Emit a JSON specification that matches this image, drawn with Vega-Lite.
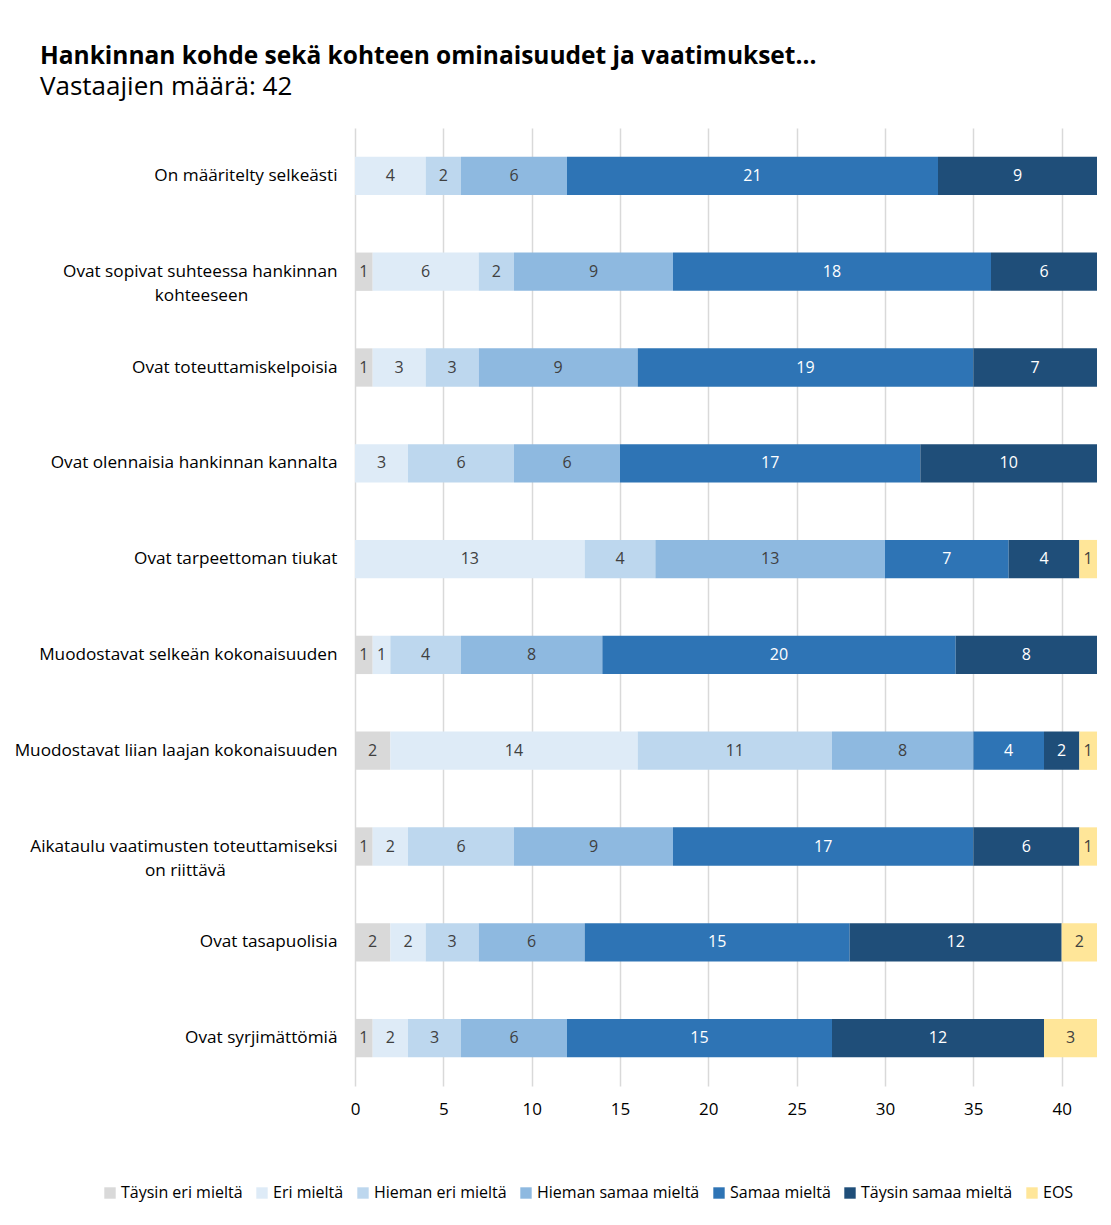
{
  "$schema": "https://vega.github.io/schema/vega-lite/v6.json",
  "width": 742,
  "height": 958,
  "autosize": {"type": "none"},
  "padding": {"left": 355, "top": 128, "right": 14, "bottom": 139},
  "background": "white",
  "title": {
    "text": "Hankinnan kohde sekä kohteen ominaisuudet ja vaatimukset...",
    "subtitle": "Vastaajien määrä: 42",
    "anchor": "start",
    "frame": "group",
    "dx": -315,
    "offset": 27,
    "font": "Open Sans",
    "fontSize": 24.5,
    "fontWeight": "bold",
    "color": "#000000",
    "subtitleFont": "Open Sans",
    "subtitleFontSize": 26,
    "subtitleColor": "#000000",
    "subtitlePadding": 5
  },
  "data": {
    "values": [
      {"q": "On määritelty selkeästi", "cat": "Eri mieltä", "n": 4},
      {"q": "On määritelty selkeästi", "cat": "Hieman eri mieltä", "n": 2},
      {"q": "On määritelty selkeästi", "cat": "Hieman samaa mieltä", "n": 6},
      {"q": "On määritelty selkeästi", "cat": "Samaa mieltä", "n": 21},
      {"q": "On määritelty selkeästi", "cat": "Täysin samaa mieltä", "n": 9},
      {"q": "Ovat sopivat suhteessa hankinnan kohteeseen", "cat": "Täysin eri mieltä", "n": 1},
      {"q": "Ovat sopivat suhteessa hankinnan kohteeseen", "cat": "Eri mieltä", "n": 6},
      {"q": "Ovat sopivat suhteessa hankinnan kohteeseen", "cat": "Hieman eri mieltä", "n": 2},
      {"q": "Ovat sopivat suhteessa hankinnan kohteeseen", "cat": "Hieman samaa mieltä", "n": 9},
      {"q": "Ovat sopivat suhteessa hankinnan kohteeseen", "cat": "Samaa mieltä", "n": 18},
      {"q": "Ovat sopivat suhteessa hankinnan kohteeseen", "cat": "Täysin samaa mieltä", "n": 6},
      {"q": "Ovat toteuttamiskelpoisia", "cat": "Täysin eri mieltä", "n": 1},
      {"q": "Ovat toteuttamiskelpoisia", "cat": "Eri mieltä", "n": 3},
      {"q": "Ovat toteuttamiskelpoisia", "cat": "Hieman eri mieltä", "n": 3},
      {"q": "Ovat toteuttamiskelpoisia", "cat": "Hieman samaa mieltä", "n": 9},
      {"q": "Ovat toteuttamiskelpoisia", "cat": "Samaa mieltä", "n": 19},
      {"q": "Ovat toteuttamiskelpoisia", "cat": "Täysin samaa mieltä", "n": 7},
      {"q": "Ovat olennaisia hankinnan kannalta", "cat": "Eri mieltä", "n": 3},
      {"q": "Ovat olennaisia hankinnan kannalta", "cat": "Hieman eri mieltä", "n": 6},
      {"q": "Ovat olennaisia hankinnan kannalta", "cat": "Hieman samaa mieltä", "n": 6},
      {"q": "Ovat olennaisia hankinnan kannalta", "cat": "Samaa mieltä", "n": 17},
      {"q": "Ovat olennaisia hankinnan kannalta", "cat": "Täysin samaa mieltä", "n": 10},
      {"q": "Ovat tarpeettoman tiukat", "cat": "Eri mieltä", "n": 13},
      {"q": "Ovat tarpeettoman tiukat", "cat": "Hieman eri mieltä", "n": 4},
      {"q": "Ovat tarpeettoman tiukat", "cat": "Hieman samaa mieltä", "n": 13},
      {"q": "Ovat tarpeettoman tiukat", "cat": "Samaa mieltä", "n": 7},
      {"q": "Ovat tarpeettoman tiukat", "cat": "Täysin samaa mieltä", "n": 4},
      {"q": "Ovat tarpeettoman tiukat", "cat": "EOS", "n": 1},
      {"q": "Muodostavat selkeän kokonaisuuden", "cat": "Täysin eri mieltä", "n": 1},
      {"q": "Muodostavat selkeän kokonaisuuden", "cat": "Eri mieltä", "n": 1},
      {"q": "Muodostavat selkeän kokonaisuuden", "cat": "Hieman eri mieltä", "n": 4},
      {"q": "Muodostavat selkeän kokonaisuuden", "cat": "Hieman samaa mieltä", "n": 8},
      {"q": "Muodostavat selkeän kokonaisuuden", "cat": "Samaa mieltä", "n": 20},
      {"q": "Muodostavat selkeän kokonaisuuden", "cat": "Täysin samaa mieltä", "n": 8},
      {"q": "Muodostavat liian laajan kokonaisuuden", "cat": "Täysin eri mieltä", "n": 2},
      {"q": "Muodostavat liian laajan kokonaisuuden", "cat": "Eri mieltä", "n": 14},
      {"q": "Muodostavat liian laajan kokonaisuuden", "cat": "Hieman eri mieltä", "n": 11},
      {"q": "Muodostavat liian laajan kokonaisuuden", "cat": "Hieman samaa mieltä", "n": 8},
      {"q": "Muodostavat liian laajan kokonaisuuden", "cat": "Samaa mieltä", "n": 4},
      {"q": "Muodostavat liian laajan kokonaisuuden", "cat": "Täysin samaa mieltä", "n": 2},
      {"q": "Muodostavat liian laajan kokonaisuuden", "cat": "EOS", "n": 1},
      {"q": "Aikataulu vaatimusten toteuttamiseksi on riittävä", "cat": "Täysin eri mieltä", "n": 1},
      {"q": "Aikataulu vaatimusten toteuttamiseksi on riittävä", "cat": "Eri mieltä", "n": 2},
      {"q": "Aikataulu vaatimusten toteuttamiseksi on riittävä", "cat": "Hieman eri mieltä", "n": 6},
      {"q": "Aikataulu vaatimusten toteuttamiseksi on riittävä", "cat": "Hieman samaa mieltä", "n": 9},
      {"q": "Aikataulu vaatimusten toteuttamiseksi on riittävä", "cat": "Samaa mieltä", "n": 17},
      {"q": "Aikataulu vaatimusten toteuttamiseksi on riittävä", "cat": "Täysin samaa mieltä", "n": 6},
      {"q": "Aikataulu vaatimusten toteuttamiseksi on riittävä", "cat": "EOS", "n": 1},
      {"q": "Ovat tasapuolisia", "cat": "Täysin eri mieltä", "n": 2},
      {"q": "Ovat tasapuolisia", "cat": "Eri mieltä", "n": 2},
      {"q": "Ovat tasapuolisia", "cat": "Hieman eri mieltä", "n": 3},
      {"q": "Ovat tasapuolisia", "cat": "Hieman samaa mieltä", "n": 6},
      {"q": "Ovat tasapuolisia", "cat": "Samaa mieltä", "n": 15},
      {"q": "Ovat tasapuolisia", "cat": "Täysin samaa mieltä", "n": 12},
      {"q": "Ovat tasapuolisia", "cat": "EOS", "n": 2},
      {"q": "Ovat syrjimättömiä", "cat": "Täysin eri mieltä", "n": 1},
      {"q": "Ovat syrjimättömiä", "cat": "Eri mieltä", "n": 2},
      {"q": "Ovat syrjimättömiä", "cat": "Hieman eri mieltä", "n": 3},
      {"q": "Ovat syrjimättömiä", "cat": "Hieman samaa mieltä", "n": 6},
      {"q": "Ovat syrjimättömiä", "cat": "Samaa mieltä", "n": 15},
      {"q": "Ovat syrjimättömiä", "cat": "Täysin samaa mieltä", "n": 12},
      {"q": "Ovat syrjimättömiä", "cat": "EOS", "n": 3}
    ]
  },
  "transform": [
    {"calculate": "indexof(['Täysin eri mieltä','Eri mieltä','Hieman eri mieltä','Hieman samaa mieltä','Samaa mieltä','Täysin samaa mieltä','EOS'], datum.cat)", "as": "k"},
    {"stack": "n", "groupby": ["q"], "sort": [{"field": "k", "order": "ascending"}], "as": ["n0", "n1"]},
    {"calculate": "(datum.n0 + datum.n1) / 2", "as": "mid"}
  ],
  "encoding": {
    "y": {
      "field": "q",
      "type": "nominal",
      "sort": null,
      "scale": {"paddingInner": 0.6, "paddingOuter": 0.3},
      "axis": {
        "title": null,
        "domain": false,
        "ticks": false,
        "labelPadding": 18,
        "labelFont": "Open Sans",
        "labelFontSize": 17.2,
        "labelColor": "#000000",
        "labelLimit": 500,
        "labelLineHeight": 24,
        "labelExpr": "datum.value == 'Ovat sopivat suhteessa hankinnan kohteeseen' ? ['Ovat sopivat suhteessa hankinnan', 'kohteeseen\u00a0\u00a0\u00a0\u00a0\u00a0\u00a0\u00a0\u00a0\u00a0\u00a0\u00a0\u00a0\u00a0\u00a0\u00a0\u00a0\u00a0\u00a0\u00a0\u00a0\u200b'] : datum.value == 'Aikataulu vaatimusten toteuttamiseksi on riittävä' ? ['Aikataulu vaatimusten toteuttamiseksi', 'on riittävä\u00a0\u00a0\u00a0\u00a0\u00a0\u00a0\u00a0\u00a0\u00a0\u00a0\u00a0\u00a0\u00a0\u00a0\u00a0\u00a0\u00a0\u00a0\u00a0\u00a0\u00a0\u00a0\u00a0\u00a0\u00a0\u200b'] : datum.value"
      }
    }
  },
  "layer": [
    {
      "mark": {"type": "bar"},
      "encoding": {
        "x": {
          "field": "n0",
          "type": "quantitative",
          "scale": {"domain": [0, 42], "nice": false},
          "axis": {
            "title": null,
            "values": [0, 5, 10, 15, 20, 25, 30, 35, 40],
            "domain": false,
            "ticks": false,
            "grid": true,
            "gridColor": "#D9D9D9",
            "gridWidth": 1.5,
            "labelFlush": false,
            "labelPadding": 15,
            "labelFont": "Open Sans",
            "labelFontSize": 17,
            "labelColor": "#000000"
          }
        },
        "x2": {"field": "n1"},
        "color": {
          "field": "cat",
          "type": "nominal",
          "scale": {
            "domain": ["Täysin eri mieltä", "Eri mieltä", "Hieman eri mieltä", "Hieman samaa mieltä", "Samaa mieltä", "Täysin samaa mieltä", "EOS"],
            "range": ["#D9D9D9", "#DEEBF7", "#BDD7EE", "#8EB9E0", "#2E74B5", "#1F4E79", "#FFE699"]
          },
          "legend": {
            "title": null,
            "orient": "none",
            "direction": "horizontal",
            "legendX": -253,
            "legendY": 1057,
            "symbolType": "square",
            "symbolSize": 130,
            "symbolStrokeWidth": 0,
            "labelFont": "Open Sans",
            "labelFontSize": 16,
            "labelColor": "#000000",
            "labelOffset": 3,
            "columnPadding": 11,
            "labelLimit": 300
          }
        }
      }
    },
    {
      "mark": {"type": "text", "font": "Open Sans", "fontSize": 16, "baseline": "middle", "align": "center"},
      "encoding": {
        "x": {"field": "mid", "type": "quantitative"},
        "text": {"field": "n", "type": "quantitative"},
        "color": {
          "condition": {"test": "datum.cat == 'Samaa mieltä' || datum.cat == 'Täysin samaa mieltä'", "value": "#FFFFFF"},
          "value": "#404040"
        }
      }
    }
  ],
  "config": {
    "view": {"stroke": null}
  }
}
